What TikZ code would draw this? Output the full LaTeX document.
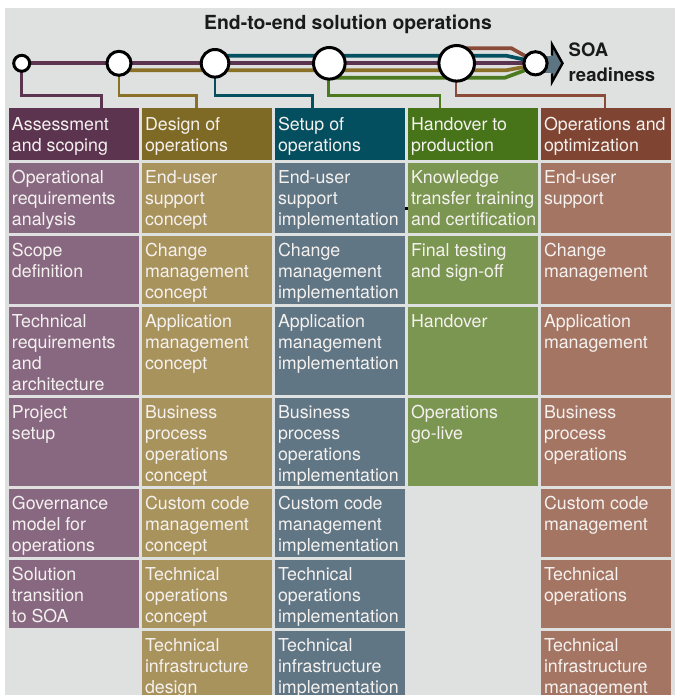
\documentclass[tikz,border=0pt]{standalone}
\usepackage{fontspec}
\setmainfont{TeX Gyre Heros}
\usetikzlibrary{calc}
\definecolor{bg}{HTML}{DFE1E0}
\definecolor{cellfg}{HTML}{F4F1EF}
\definecolor{titlec}{HTML}{1A1A1A}
\definecolor{purH}{HTML}{5C3450}
\definecolor{purC}{HTML}{876880}
\definecolor{oliH}{HTML}{7F6A25}
\definecolor{oliC}{HTML}{A9935D}
\definecolor{teaH}{HTML}{044F5F}
\definecolor{teaC}{HTML}{607685}
\definecolor{greH}{HTML}{477419}
\definecolor{greC}{HTML}{7B9650}
\definecolor{broH}{HTML}{7F4432}
\definecolor{broC}{HTML}{A57563}
\definecolor{purL}{HTML}{5C3450}
\definecolor{oliL}{HTML}{8B7128}
\definecolor{teaL}{HTML}{045060}
\definecolor{greL}{HTML}{4B7A1F}
\definecolor{broL}{HTML}{8A4C39}
\definecolor{slateA}{HTML}{5D7582}
\newcommand\mycell[6]{%
  \node[cellbox, fill=#5, minimum height=#4pt] (#1) at (#2,#3) {};
  \node[celltext] (#1t) at ([xshift=3pt,yshift=-6pt]#1.north west) {\rule{0pt}{14pt}#6};
}
\newcommand\myhead[5]{%
  \node[cellbox, fill=#4, minimum height=52pt] (#1) at (#2,#3) {};
  \node[celltext] (#1t) at ([xshift=3pt,yshift=-8.5pt]#1.north west) {\rule{0pt}{14pt}#5};
}
\begin{document}
\begin{tikzpicture}[x=1pt,y=-1pt,
  cellbox/.style={draw=none, inner sep=0pt, outer sep=0pt, minimum width=130pt, anchor=north west},
  celltext/.style={inner sep=0pt, outer sep=0pt, anchor=north west, align=left, text=cellfg, font=\fontsize{17.8}{21.2}\selectfont},
  ring/.style={circle, draw=black, line width=3pt, fill=white, inner sep=0pt},
  mainline/.style={line width=3.7pt},
  dropline/.style={line width=2.8pt, line join=miter},
]
\useasboundingbox (0,0) rectangle (677,695);
\fill[bg] (5,8) rectangle (675,695);

% title
\node[anchor=base, inner sep=0pt, text=titlec, font=\bfseries\fontsize{19.4}{23}\selectfont] (title) at (348,30) {End-to-end solution operations};

% headers
\myhead{a0}{9}{108}{purH}{Assessment\\and scoping}
\myhead{b0}{142}{108}{oliH}{Design of\\operations}
\myhead{c0}{275}{108}{teaH}{Setup of\\operations}
\myhead{d0}{408}{108}{greH}{Handover to\\production}
\myhead{e0}{541}{108}{broH}{Operations and\\optimization}

% column 1
\mycell{a1}{9}{163}{70}{purC}{Operational\\requirements\\analysis}
\mycell{a2}{9}{236}{68}{purC}{Scope\\definition}
\mycell{a3}{9}{307}{88}{purC}{Technical\\requirements\\and\\architecture}
\mycell{a4}{9}{398}{88}{purC}{Project\\setup}
\mycell{a5}{9}{489}{68}{purC}{Governance\\model for\\operations}
\mycell{a6}{9}{560}{68}{purC}{Solution\\transition\\to SOA}

% column 2
\mycell{b1}{142}{163}{70}{oliC}{End-user\\support\\concept}
\mycell{b2}{142}{236}{68}{oliC}{Change\\management\\concept}
\mycell{b3}{142}{307}{88}{oliC}{Application\\management\\concept}
\mycell{b4}{142}{398}{88}{oliC}{Business\\process\\operations\\concept}
\mycell{b5}{142}{489}{68}{oliC}{Custom code\\management\\concept}
\mycell{b6}{142}{560}{68}{oliC}{Technical\\operations\\concept}
\mycell{b7}{142}{631}{64}{oliC}{Technical\\infrastructure\\design}

% column 3
\mycell{c1b}{275}{163}{70}{teaC}{End-user\\support\\implementation}
\mycell{c2b}{275}{236}{68}{teaC}{Change\\management\\implementation}
\mycell{c3b}{275}{307}{88}{teaC}{Application\\management\\implementation}
\mycell{c4b}{275}{398}{88}{teaC}{Business\\process\\operations\\implementation}
\mycell{c5b}{275}{489}{68}{teaC}{Custom code\\management\\implementation}
\mycell{c6b}{275}{560}{68}{teaC}{Technical\\operations\\implementation}
\mycell{c7b}{275}{631}{64}{teaC}{Technical\\infrastructure\\implementation}

% column 4
\mycell{d1}{408}{163}{70}{greC}{Knowledge\\transfer training\\and certification}
\mycell{d2}{408}{236}{68}{greC}{Final testing\\and sign-off}
\mycell{d3}{408}{307}{88}{greC}{Handover}
\mycell{d4}{408}{398}{88}{greC}{Operations\\go-live}

% column 5
\mycell{e1}{541}{163}{70}{broC}{End-user\\support}
\mycell{e2}{541}{236}{68}{broC}{Change\\management}
\mycell{e3}{541}{307}{88}{broC}{Application\\management}
\mycell{e4}{541}{398}{88}{broC}{Business\\process\\operations}
\mycell{e5}{541}{489}{68}{broC}{Custom code\\management}
\mycell{e6}{541}{560}{68}{broC}{Technical\\operations}
\mycell{e7}{541}{631}{64}{broC}{Technical\\infrastructure\\management}

% small mark
\fill[black] (405,207) rectangle (407.5,209.5);

% circle positions
\path (21.7,63.3) coordinate (p1) (119,63.3) coordinate (p2) (215,63.3) coordinate (p3)
      (329.3,63.3) coordinate (p4) (456.7,63.3) coordinate (p5) (535.5,63.3) coordinate (p6);

% main lines
\draw[mainline, broL] ([yshift=15pt]p5) -- (511.5,48.3) -- ([xshift=-8pt,yshift=6pt]p6);
\draw[mainline, teaL] ([yshift=7.6pt]p3) -- (506,55.7) -- ([xshift=-8pt,yshift=3pt]p6);
\draw[mainline, purL] (p1) -- (p6);
\draw[mainline, oliL] ([yshift=-7pt]p2) -- (506,70.3) -- ([xshift=-8pt,yshift=-3pt]p6);
\draw[mainline, greL] ([yshift=-14.4pt]p4) -- (505,77.7) -- ([xshift=-8pt,yshift=-6pt]p6);

% drops
\draw[dropline, purL] (p1) |- (101.7,95.7) -- ([xshift=92.7pt]a0.north west);
\draw[dropline, oliL] (p2) |- (196.7,95.7) -- ([xshift=54.7pt]b0.north west);
\draw[dropline, teaL] (p3) |- (312.3,95.7) -- ([xshift=37.3pt]c0.north west);
\draw[dropline, greL] ([xshift=-1pt]p4) |- (440,95.7) -- ([xshift=32pt]d0.north west);
\draw[dropline, broL] ([xshift=-0.7pt]p5) |- (605,95.7) -- ([xshift=64pt]e0.north west);

% arrow
\fill[slateA] (535.5,55.7) rectangle (552,73.3);
\fill[slateA] (552,44.5) -- (562.5,63.3) -- (552,82) -- cycle;
\draw[black, line width=2.4pt, line join=miter] (552,55.7) -- (552,44.5) -- (562.5,63.3) -- (552,82) -- (552,73.3);

% circles
\node[ring, minimum size=16pt] (c1) at (p1) {};
\node[ring, minimum size=24pt] (c2) at (p2) {};
\node[ring, minimum size=27.6pt] (c3) at (p3) {};
\node[ring, minimum size=31.6pt] (c4) at (p4) {};
\node[ring, minimum size=35.6pt] (c5) at (p5) {};
\node[ring, minimum size=23.2pt] (c6) at (p6) {};

% SOA readiness
\node[anchor=north west, align=left, inner sep=0pt, text=titlec, font=\bfseries\fontsize{18.5}{25.7}\selectfont] (soa) at (568.5,41) {\rule{0pt}{15pt}SOA\\readiness};
\end{tikzpicture}
\end{document}
